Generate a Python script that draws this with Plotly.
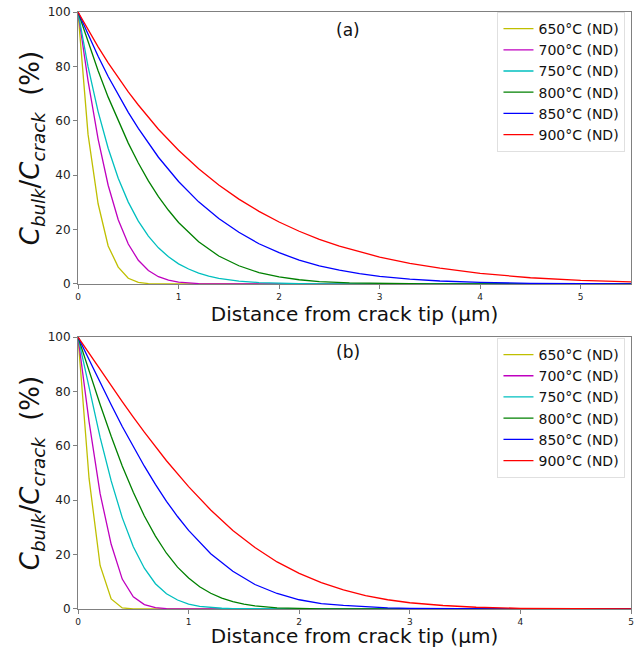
import plotly.graph_objects as go
from plotly.subplots import make_subplots

labels = ["650°C (ND)", "700°C (ND)", "750°C (ND)", "800°C (ND)", "850°C (ND)", "900°C (ND)"]
colors = ["#bfbf00", "#bf00bf", "#00bfbf", "#008000", "#0000ff", "#ff0000"]

# ---- panel (a) ----
a_x_650 = [0, 0.1, 0.2, 0.3, 0.4, 0.5, 0.6, 0.7, 0.8, 0.9, 5.5]
a_y_650 = [100, 55, 29.5, 14, 6.2, 2.1, 0.6, 0.15, 0.03, 0, 0]
a_x_700 = [0, 0.1, 0.2, 0.3, 0.4, 0.5, 0.6, 0.7, 0.8, 0.9, 1.0, 1.1, 1.2, 1.3, 1.5, 1.7, 5.5]
a_y_700 = [100, 74.7, 53.3, 36.3, 23.6, 14.7, 8.7, 4.95, 2.68, 1.39, 0.69, 0.32, 0.15, 0.06, 0.01, 0, 0]
a_x_750 = [0, 0.1, 0.2, 0.3, 0.4, 0.5, 0.6, 0.7, 0.8, 0.9, 1.0, 1.1, 1.2, 1.3, 1.4, 1.5, 1.6, 1.8, 2.0, 2.2, 2.5, 3.0, 5.5]
a_y_750 = [100, 79.9, 63.4, 49.9, 38.9, 30.1, 23.1, 17.6, 13.3, 10.0, 7.4, 5.5, 4.0, 2.9, 2.1, 1.5, 1.06, 0.52, 0.25, 0.11, 0.03, 0, 0]
a_x_800 = [0, 0.1, 0.2, 0.3, 0.4, 0.5, 0.6, 0.7, 0.8, 0.9, 1.0, 1.2, 1.4, 1.6, 1.8, 2.0, 2.2, 2.4, 2.7, 3.0, 3.5, 4.0, 5.5]
a_y_800 = [100, 88.9, 78.4, 68.7, 59.9, 51.8, 44.5, 37.9, 32.1, 27.1, 22.6, 15.5, 10.3, 6.7, 4.2, 2.6, 1.56, 0.9, 0.38, 0.15, 0.03, 0, 0]
a_x_850 = [0, 0.1, 0.2, 0.3, 0.4, 0.5, 0.6, 0.8, 1.0, 1.2, 1.4, 1.6, 1.8, 2.0, 2.2, 2.4, 2.6, 2.8, 3.0, 3.3, 3.6, 4.0, 4.5, 5.0, 5.5]
a_y_850 = [100, 91.6, 83.7, 76.3, 69.5, 63.1, 57.2, 46.6, 37.7, 30.2, 24.1, 19.0, 14.8, 11.5, 8.8, 6.7, 5.1, 3.8, 2.8, 1.78, 1.1, 0.56, 0.23, 0.09, 0.03]
a_x_900 = [0, 0.1, 0.2, 0.3, 0.4, 0.5, 0.6, 0.8, 1.0, 1.2, 1.4, 1.6, 1.8, 2.0, 2.2, 2.4, 2.6, 2.8, 3.0, 3.3, 3.6, 4.0, 4.5, 5.0, 5.5]
a_y_900 = [100, 93.4, 87.2, 81.3, 75.8, 70.6, 65.8, 56.9, 49.2, 42.4, 36.4, 31.2, 26.7, 22.8, 19.4, 16.4, 13.9, 11.8, 9.9, 7.6, 5.8, 3.9, 2.3, 1.3, 0.75]

# ---- panel (b) ----
b_x_650 = [0, 0.1, 0.2, 0.3, 0.4, 0.5, 0.6, 5.0]
b_y_650 = [100, 48, 16, 3.7, 0.4, 0.03, 0, 0]
b_x_700 = [0, 0.1, 0.2, 0.3, 0.4, 0.5, 0.6, 0.7, 0.8, 0.9, 1.0, 1.1, 5.0]
b_y_700 = [100, 68.9, 42.4, 23.8, 11.0, 4.5, 1.63, 0.52, 0.14, 0.03, 0.01, 0, 0]
b_x_750 = [0, 0.1, 0.2, 0.3, 0.4, 0.5, 0.6, 0.7, 0.8, 0.9, 1.0, 1.1, 1.2, 1.3, 1.4, 1.6, 2.0, 5.0]
b_y_750 = [100, 81.0, 63.1, 47.1, 33.6, 22.9, 15.0, 9.3, 5.6, 3.3, 1.8, 1.0, 0.55, 0.27, 0.13, 0.03, 0, 0]
b_x_800 = [0, 0.1, 0.2, 0.3, 0.4, 0.5, 0.6, 0.7, 0.8, 0.9, 1.0, 1.1, 1.2, 1.3, 1.4, 1.5, 1.6, 1.8, 2.0, 2.2, 2.5, 3.0, 5.0]
b_y_800 = [100, 87.4, 75.2, 63.5, 52.6, 42.9, 34.2, 26.8, 20.5, 15.4, 11.4, 8.2, 5.8, 4.0, 2.7, 1.77, 1.13, 0.44, 0.16, 0.05, 0.01, 0, 0]
b_x_850 = [0, 0.1, 0.2, 0.3, 0.4, 0.5, 0.6, 0.7, 0.8, 0.9, 1.0, 1.2, 1.4, 1.6, 1.8, 2.0, 2.2, 2.4, 2.6, 2.8, 3.0, 3.3, 3.6, 4.0, 5.0]
b_y_850 = [100, 91.6, 83.2, 75.1, 67.1, 59.6, 52.5, 45.8, 39.6, 34.0, 28.9, 20.3, 13.9, 9.0, 5.7, 3.4, 2.0, 1.3, 0.8, 0.45, 0.25, 0.1, 0.04, 0, 0]
b_x_900 = [0, 0.1, 0.2, 0.3, 0.4, 0.5, 0.6, 0.8, 1.0, 1.2, 1.4, 1.6, 1.8, 2.0, 2.2, 2.4, 2.6, 2.8, 3.0, 3.3, 3.6, 4.0, 4.5, 5.0]
b_y_900 = [100, 94.0, 88.0, 82.1, 76.2, 70.5, 65.0, 54.5, 45.0, 36.4, 28.9, 22.6, 17.3, 13.1, 9.7, 7.0, 4.9, 3.4, 2.3, 1.28, 0.65, 0.25, 0.07, 0.02]

x_ticks = [0, 1, 2, 3, 4, 5]
y_ticks = [0, 20, 40, 60, 80, 100]

panel_a = [(a_x_650, a_y_650), (a_x_700, a_y_700), (a_x_750, a_y_750),
           (a_x_800, a_y_800), (a_x_850, a_y_850), (a_x_900, a_y_900)]
panel_b = [(b_x_650, b_y_650), (b_x_700, b_y_700), (b_x_750, b_y_750),
           (b_x_800, b_y_800), (b_x_850, b_y_850), (b_x_900, b_y_900)]

FONT = "DejaVu Sans"
fig = make_subplots(rows=2, cols=1, vertical_spacing=0.0888)

for i, (xs, ys) in enumerate(panel_a):
    fig.add_trace(go.Scatter(x=xs, y=ys, mode="lines", name=labels[i],
                             line=dict(color=colors[i], width=1.3), legend="legend"),
                  row=1, col=1)
for i, (xs, ys) in enumerate(panel_b):
    fig.add_trace(go.Scatter(x=xs, y=ys, mode="lines", name=labels[i],
                             line=dict(color=colors[i], width=1.3), legend="legend2"),
                  row=2, col=1)

ytitle = "<i>C</i><sub><i>bulk</i></sub>/<i>C</i><sub><i>crack</i></sub>  (%)"
xtitle = "Distance from crack tip (µm)"

axis_common = dict(showline=True, mirror=True, linecolor="#808080", linewidth=1,
                   ticks="outside", ticklen=4, tickcolor="#808080",
                   showgrid=False, zeroline=False, automargin=False)

fig.update_xaxes(**axis_common, tickvals=x_ticks, tickfont=dict(size=9, color="#222"),
                 title=dict(text=xtitle, font=dict(size=20, color="#111"), standoff=0))
fig.update_xaxes(range=[0, 5.5], row=1, col=1)
fig.update_xaxes(range=[0, 5], row=2, col=1)
fig.update_yaxes(**axis_common, tickvals=y_ticks, range=[0, 100],
                 tickfont=dict(size=12, color="#222"),
                 title=dict(text=ytitle, font=dict(size=26, color="#111"), standoff=0))

fig.update_layout(
    width=640, height=648,
    margin=dict(l=78, r=9, t=12, b=39),
    paper_bgcolor="white", plot_bgcolor="white",
    font=dict(family=FONT, color="#111"),
    showlegend=True,
    legend=dict(x=0.99, y=1.0, xanchor="right", yanchor="top",
                bgcolor="rgba(255,255,255,0.8)", bordercolor="#e0e0e0", borderwidth=1,
                font=dict(size=14, family=FONT)),
    legend2=dict(x=0.99, y=0.454, xanchor="right", yanchor="top",
                 bgcolor="rgba(255,255,255,0.8)", bordercolor="#e0e0e0", borderwidth=1,
                 font=dict(size=14, family=FONT)),
)

fig.add_annotation(text="(a)", xref="x domain", yref="y domain", x=0.488, y=0.934,
                   xanchor="center", yanchor="middle",
                   showarrow=False, font=dict(size=17, family=FONT, color="#111"))
fig.add_annotation(text="(b)", xref="x2 domain", yref="y2 domain", x=0.488, y=0.945,
                   xanchor="center", yanchor="middle",
                   showarrow=False, font=dict(size=17, family=FONT, color="#111"))

fig.write_html("out.html", config={"displayModeBar": False},
               post_script="document.body.style.margin='0';document.body.style.overflow='hidden';")
